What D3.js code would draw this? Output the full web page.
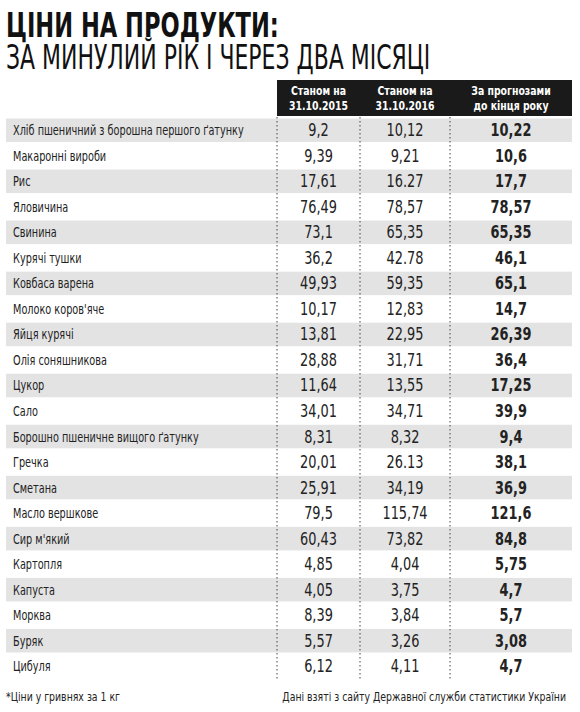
<!DOCTYPE html><html><head><meta charset="utf-8"><script src="https://cdn.jsdelivr.net/npm/d3@7"></script>
<style>body{margin:0;background:#fff}</style></head><body><svg id="c" width="580" height="712"></svg>
<script>
const products=["Хліб пшеничний з борошна першого ґатунку","Макаронні вироби","Рис","Яловичина","Свинина","Курячі тушки","Ковбаса варена","Молоко коров'яче","Яйця курячі","Олія соняшникова","Цукор","Сало","Борошно пшеничне вищого ґатунку","Гречка","Сметана","Масло вершкове","Сир м'який","Картопля","Капуста","Морква","Буряк","Цибуля"];
const v2015=["9,2","9,39","17,61","76,49","73,1","36,2","49,93","10,17","13,81","28,88","11,64","34,01","8,31","20,01","25,91","79,5","60,43","4,85","4,05","8,39","5,57","6,12"];
const v2016=["10,12","9,21","16.27","78,57","65,35","42.78","59,35","12,83","22,95","31,71","13,55","34,71","8,32","26.13","34,19","115,74","73,82","4,04","3,75","3,84","3,26","4,11"];
const forecast=["10,22","10,6","17,7","78,57","65,35","46,1","65,1","14,7","26,39","36,4","17,25","39,9","9,4","38,1","36,9","121,6","84,8","5,75","4,7","5,7","3,08","4,7"];
const headers=[["Станом на","31.10.2015"],["Станом на","31.10.2016"],["За прогнозами","до кінця року"]];
const F="'DejaVu Sans Condensed','DejaVu Sans',sans-serif";
const svg=d3.select("#c");
function txt(p,x,y,s,sx,anchor,bold,t,fill){return p.append("text").attr("transform",`translate(${x},${y}) scale(${sx},1)`).attr("text-anchor",anchor).attr("font-family",F).attr("font-size",s).attr("font-weight",bold?"bold":"normal").attr("fill",fill||"#222").text(t);}
txt(svg,6,37,33,0.76,"start",true,"ЦІНИ НА ПРОДУКТИ:","#111");
txt(svg,6,69,33,0.74,"start",false,"ЗА МИНУЛИЙ РІК І ЧЕРЕЗ ДВА МІСЯЦІ","#111");
const y=d3.scaleBand().domain(d3.range(products.length)).range([117.5,679]);
const cols=[277,360,450,572];
svg.append("rect").attr("x",cols[0]).attr("y",80).attr("width",cols[3]-cols[0]).attr("height",36).attr("fill","#1a1a1a");
headers.forEach((h,i)=>{const cx=(cols[i]+cols[i+1])/2;h.forEach((t,j)=>txt(svg,cx,95+j*15,13,0.8,"middle",true,t,"#fff"));});
const g=svg.selectAll("g.r").data(products).join("g").attr("transform",(d,i)=>`translate(0,${y(i)})`);
g.filter((d,i)=>i%2==0).append("rect").attr("x",6).attr("y",1).attr("width",566).attr("height",y.bandwidth()-2).attr("fill","#e3e3e3");
const cy=y.bandwidth()/2+5;
g.each(function(d,i){const s=d3.select(this);
 txt(s,13,cy,13.5,0.8,"start",false,d);
 [v2015,v2016,forecast].forEach((arr,k)=>txt(s,(cols[k]+cols[k+1])/2,cy+1,17.5,0.82,"middle",k==2,arr[i]));
});
[cols[0],cols[1],cols[2]].forEach(x=>svg.append("line").attr("x1",x).attr("x2",x).attr("y1",117).attr("y2",680).attr("stroke","#444").attr("stroke-width",1).attr("stroke-dasharray","1.5,2.5"));
txt(svg,6,701,13,0.8,"start",false,"*Ціни у гривнях за 1 кг");
txt(svg,566,701,13,0.8,"end",false,"Дані взяті з сайту Державної служби статистики України");
</script></body></html>
